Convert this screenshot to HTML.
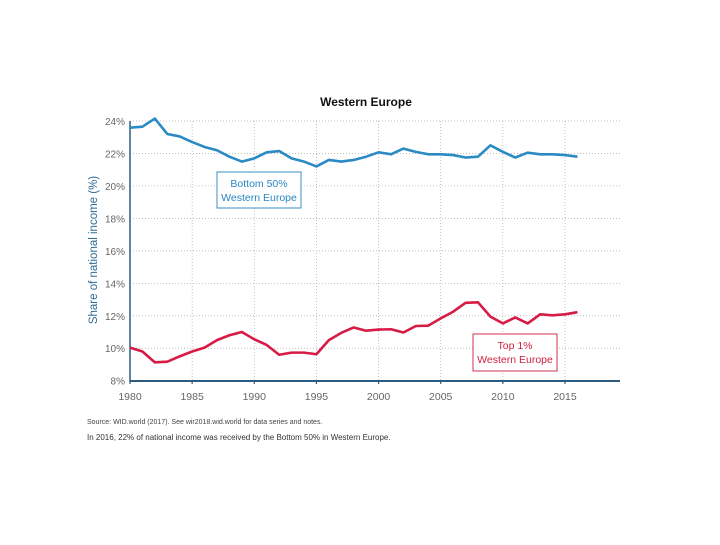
<!DOCTYPE html>
<html><head><meta charset="utf-8"><style>
body{margin:0;background:#fff;width:720px;height:540px;overflow:hidden;font-family:"Liberation Sans",sans-serif}
</style></head><body>
<svg width="720" height="540">
<text x="366" y="106" text-anchor="middle" font-size="12" font-weight="bold" fill="#111">Western Europe</text>
<g id="grid"></g>
<g id="axes"></g>
<g id="series"></g>
<text transform="translate(97,250) rotate(-90)" text-anchor="middle" font-size="11.5" fill="#2d6a96">Share of national income (%)</text>
<rect x="217" y="172" width="84" height="36" fill="#fff" stroke="#3b8fc2"/>
<text x="259" y="187" text-anchor="middle" font-size="10.5" fill="#2a86c0">Bottom 50%</text>
<text x="259" y="201" text-anchor="middle" font-size="10.5" fill="#2a86c0">Western Europe</text>
<rect x="473" y="334" width="84" height="37" fill="#fff" stroke="#d0304f"/>
<text x="515" y="349" text-anchor="middle" font-size="10.5" fill="#d0203f">Top 1%</text>
<text x="515" y="363" text-anchor="middle" font-size="10.5" fill="#d0203f">Western Europe</text>
<text x="87" y="424" font-size="7" fill="#444">Source: WID.world (2017). See wir2018.wid.world for data series and notes.</text>
<text x="87" y="440" font-size="8" fill="#333">In 2016, 22% of national income was received by the Bottom 50% in Western Europe.</text>
</svg>
<script>
const years=[];for(let y=1980;y<=2016;y++)years.push(y);
const bottom50=[23.59,23.65,24.15,23.2,23.05,22.7,22.4,22.2,21.8,21.5,21.7,22.07,22.15,21.7,21.5,21.2,21.6,21.5,21.6,21.8,22.07,21.95,22.3,22.1,21.95,21.95,21.9,21.75,21.8,22.5,22.1,21.75,22.05,21.95,21.95,21.9,21.8];
const top1=[10.04,9.8,9.13,9.17,9.5,9.8,10.04,10.5,10.8,11.0,10.55,10.2,9.6,9.73,9.73,9.63,10.5,10.95,11.28,11.08,11.15,11.17,10.97,11.37,11.39,11.84,12.25,12.8,12.83,11.95,11.53,11.9,11.53,12.09,12.03,12.09,12.22];
const yTicks=[8,10,12,14,16,18,20,22,24];
const xTicks=[1980,1985,1990,1995,2000,2005,2010,2015];
const NS='http://www.w3.org/2000/svg';
const X=v=>130+(v-1980)*(435/35);
const Y=v=>380.7-(v-8)*(259.7/16);
function mk(t,a,p){const e=document.createElementNS(NS,t);for(const k in a)e.setAttribute(k,a[k]);p.appendChild(e);return e;}
const g=document.getElementById('grid'),ax=document.getElementById('axes'),s=document.getElementById('series');
yTicks.forEach(v=>{
 if(v>8){const l=mk('line',{x1:130,x2:620,y1:Y(v),y2:Y(v),stroke:'#aaa','stroke-width':0.7,'stroke-dasharray':'1,2'},g);
 
 }
 const t=mk('text',{x:125,y:Y(v)+4,'text-anchor':'end','font-size':10,fill:'#666'},ax);t.textContent=v+'%';
 
 
});
xTicks.forEach(v=>{
 if(v>1980){const l=mk('line',{x1:X(v),x2:X(v),y1:121,y2:380,stroke:'#aaa','stroke-width':0.7,'stroke-dasharray':'1,2'},g);
 
 }
 const tk=mk('line',{x1:X(v),x2:X(v),y1:380,y2:384,stroke:'#2d5c80','stroke-width':1.2},ax);
 
 
 const t=mk('text',{x:X(v),y:400,'text-anchor':'middle','font-size':10.5,fill:'#666'},ax);t.textContent=v;
 
 
});
const xa=mk('line',{x1:130,x2:620,y1:381,y2:381,stroke:'#2d5c80','stroke-width':2},ax);


const ya=mk('line',{x1:130,x2:130,y1:121,y2:382,stroke:'#2d5c80','stroke-width':1.5},ax);


function line(d,c,n){const p=mk('polyline',{points:d.map((v,i)=>X(years[i])+','+Y(v)).join(' '),fill:'none',stroke:c,'stroke-width':2.6,'stroke-linejoin':'round'},s);
 
 }
line(bottom50,'#2a8ac4','bottom50-line');
line(top1,'#d81b45','top1-line');
</script>
</body></html>
